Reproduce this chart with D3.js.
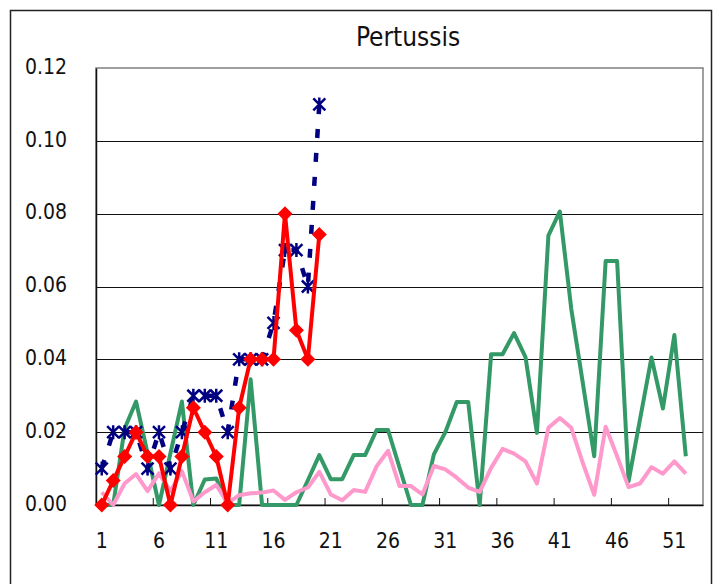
<!DOCTYPE html>
<html>
<head>
<meta charset="utf-8">
<script src="https://cdn.jsdelivr.net/npm/d3@7"></script>
<style>
  body { margin: 0; background: #fff; }
  text { font-family: "Liberation Sans Narrow", "DejaVu Sans Condensed", "Liberation Sans", sans-serif; fill: #111; }
</style>
</head>
<body>
<div id="container"></div>
<script>

var W = 720, H = 584;

var margin = {top: 68, right: 17, bottom: 79, left: 96};

var width = W - margin.left - margin.right;   // 607
var height = H - margin.top - margin.bottom;  // 437

// weeks 1..53 on the category axis, data for 1..52
var weeks = d3.range(1, 54);

var tickLabels = [1, 6, 11, 16, 21, 26, 31, 36, 41, 46, 51];

var yTicks = [0, 0.02, 0.04, 0.06, 0.08, 0.10, 0.12];

//  green series (52 weeks)
var greenVals = [0, 0, 0.021, 0.0284, 0.0142, 0, 0.0142, 0.0284, 0, 0.007,
    0.0073, 0, 0, 0.0345, 0, 0, 0, 0, 0.0068, 0.0137,
    0.0071, 0.0071, 0.0137, 0.0137, 0.0206, 0.0206, 0.0103, 0, 0, 0.0139,
    0.02, 0.0283, 0.0283, 0, 0.0414, 0.0414, 0.0472, 0.0406, 0.0198, 0.074,
    0.0806, 0.0538, 0.0336, 0.0134, 0.067, 0.067, 0.0065, 0.0235, 0.0405, 0.0265,
    0.0467, 0.0134];

//  pink series (52 weeks)
var pinkVals = [0.0035, 0, 0.0059, 0.0085, 0.0038, 0.0087, 0.0038, 0.0093, 0.001, 0.0035,
    0.0055, 0.0005, 0.0027, 0.0032, 0.0034, 0.004, 0.0014, 0.0035, 0.0048, 0.0091,
    0.0029, 0.0013, 0.0041, 0.0036, 0.0106, 0.0149, 0.0052, 0.0052, 0.0029, 0.0107,
    0.0098, 0.0075, 0.0048, 0.0036, 0.0102, 0.0154, 0.0141, 0.012, 0.0059, 0.0212,
    0.0239, 0.0212, 0.0116, 0.0028, 0.0215, 0.0134, 0.0049, 0.0059, 0.0104, 0.0086,
    0.012, 0.0086];

//  blue dashed series with star markers (weeks 1..20)
var blueVals = [0.01, 0.02, 0.02, 0.02, 0.01, 0.02, 0.01, 0.02, 0.03, 0.03,
    0.03, 0.02, 0.04, 0.04, 0.04, 0.05, 0.07, 0.07, 0.06, 0.11];

//  red series with diamond markers (weeks 1..20)
var redVals = [0, 0.0067, 0.0133, 0.02, 0.0133, 0.0133, 0, 0.0133, 0.0267, 0.02,
    0.0133, 0, 0.0267, 0.04, 0.04, 0.04, 0.08, 0.048, 0.04, 0.0743];

var x = d3.scaleBand()
    .domain(weeks)
    .range([0, width])
    .padding(0);

var y = d3.scaleLinear()
    .domain([0, 0.12])
    .range([height, 0]);

function cx(i) { return x(i + 1) + x.bandwidth() / 2; }

var svg = d3.select("#container")
    .append("svg")
    .attr("width", W)
    .attr("height", H);

//  outer chart frame
svg.append("rect")
    .attr("x", 10.5)
    .attr("y", 10.5)
    .attr("width", 701)
    .attr("height", 620)
    .attr("fill", "none")
    .attr("stroke", "#222")
    .attr("stroke-width", 1.5);

svg.append("text")
    .attr("x", 408)
    .attr("y", 46)
    .attr("text-anchor", "middle")
    .style("font-size", "26px")
    .style("font-weight", "300")
    .text("Pertussis");

var g = svg.append("g")
    .attr("transform", "translate(" + margin.left + "," + margin.top + ")");

//  plot area border
g.append("rect")
    .attr("x", 0)
    .attr("y", 0)
    .attr("width", width)
    .attr("height", height)
    .attr("fill", "none")
    .attr("stroke", "#808080")
    .attr("stroke-width", 1.5);

//  gridlines
g.selectAll(".grid")
    .data(yTicks.slice(1, -1))
    .enter()
    .append("line")
    .attr("class", "grid")
    .attr("x1", 0)
    .attr("x2", width)
    .attr("y1", function(d) { return Math.round(y(d)) + 0.5; })
    .attr("y2", function(d) { return Math.round(y(d)) + 0.5; })
    .attr("stroke", "#111")
    .attr("stroke-width", 1);

//  y axis
var yAxis = g.append("g")
    .call(d3.axisLeft(y).tickValues(yTicks).tickFormat(d3.format(".2f")).tickSize(0).tickPadding(29));

yAxis.select(".domain").attr("stroke", "#111").attr("stroke-width", 1.5);
yAxis.selectAll("text").style("font-size", "21px").attr("dy", "0.25em");

//  x axis: labels on categories, tick marks between every 5th category
var xAxis = g.append("g")
    .attr("transform", "translate(0," + height + ")")
    .call(d3.axisBottom(x).tickValues(tickLabels).tickSize(0).tickPadding(28));

xAxis.select(".domain").attr("stroke", "#111").attr("stroke-width", 1.5);
xAxis.selectAll("text").style("font-size", "21px");

g.selectAll(".xtick")
    .data(d3.range(5, 53, 5))
    .enter()
    .append("line")
    .attr("class", "xtick")
    .attr("x1", function(d) { return x(d + 1); })
    .attr("x2", function(d) { return x(d + 1); })
    .attr("y1", height)
    .attr("y2", height - 7)
    .attr("stroke", "#111")
    .attr("stroke-width", 1);

var line = d3.line()
    .x(function(d, i) { return cx(i); })
    .y(function(d) { return y(d); });

g.append("path")
    .datum(greenVals)
    .attr("d", line)
    .attr("fill", "none")
    .attr("stroke", "#339966")
    .attr("stroke-width", 4)
    .attr("stroke-linejoin", "round");

g.append("path")
    .datum(pinkVals)
    .attr("d", line)
    .attr("fill", "none")
    .attr("stroke", "#FF99CC")
    .attr("stroke-width", 4)
    .attr("stroke-linejoin", "round");

g.append("path")
    .datum(blueVals)
    .attr("d", line)
    .attr("fill", "none")
    .attr("stroke", "#000080")
    .attr("stroke-width", 4.5)
    .attr("stroke-dasharray", "9,15");

g.selectAll(".star")
    .data(blueVals)
    .enter()
    .append("path")
    .attr("class", "star")
    .attr("transform", function(d, i) { return "translate(" + cx(i) + "," + y(d) + ")"; })
    .attr("d", "M-6,-6L6,6M-6,6L6,-6M0,-7L0,7")
    .attr("fill", "none")
    .attr("stroke", "#000080")
    .attr("stroke-width", 2.5);

g.append("path")
    .datum(redVals)
    .attr("d", line)
    .attr("fill", "none")
    .attr("stroke", "#FF0000")
    .attr("stroke-width", 4)
    .attr("stroke-linejoin", "round");

g.selectAll(".diamond")
    .data(redVals)
    .enter()
    .append("path")
    .attr("class", "diamond")
    .attr("transform", function(d, i) { return "translate(" + cx(i) + "," + y(d) + ")"; })
    .attr("d", "M0,-7.5L7.5,0L0,7.5L-7.5,0Z")
    .attr("fill", "#FF0000");

</script>
</body>
</html>
